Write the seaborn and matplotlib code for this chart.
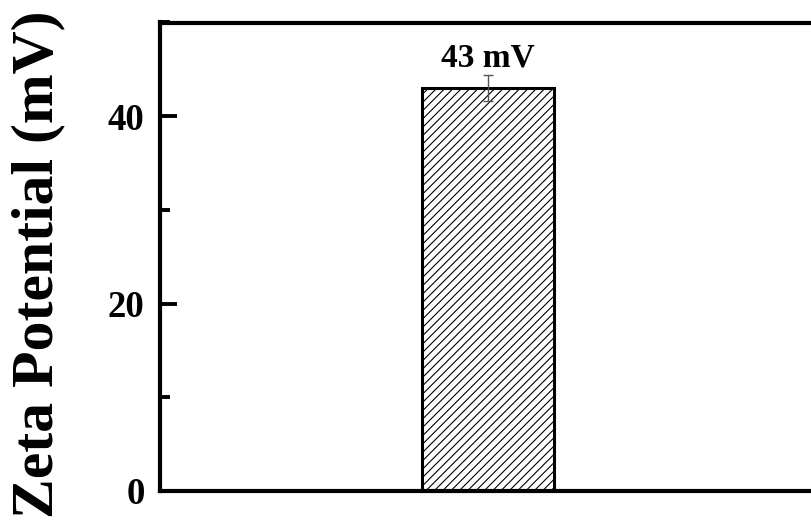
import matplotlib
matplotlib.use("Agg")
import matplotlib.pyplot as plt
import seaborn as sns
import pandas as pd
from matplotlib.ticker import MultipleLocator

# Data
categories = ["Sample"]
zeta_values = [43.0]
zeta_errors = [1.4]
value_labels = ["43 mV"]
y_ticks = [0, 20, 40]

sns.set_style("ticks")
plt.rcParams["font.family"] = ["Liberation Serif", "DejaVu Serif"]
plt.rcParams["font.weight"] = "bold"
plt.rcParams["text.color"] = "black"
plt.rcParams["axes.labelcolor"] = "black"
plt.rcParams["ytick.color"] = "black"
plt.rcParams["ytick.labelcolor"] = "black"
plt.rcParams["hatch.linewidth"] = 0.8
plt.rcParams["hatch.color"] = "#444444"

df = pd.DataFrame({"cat": categories, "zeta": zeta_values})

fig = plt.figure(figsize=(8.11, 5.25), dpi=100)
ax = fig.add_axes([160 / 811, 34 / 525, 656 / 811, 468.5 / 525])

sns.barplot(data=df, x="cat", y="zeta", ax=ax, width=0.2, color="white",
            edgecolor="black", linewidth=2.2, errorbar=None, hatch="////")

for i, (v, e, lab) in enumerate(zip(zeta_values, zeta_errors, value_labels)):
    ax.errorbar(i, v, yerr=e, fmt="none", ecolor="#555555", elinewidth=1.0,
                capsize=3.5, capthick=1.0, zorder=5)
    ax.text(i, v + e + 0.95, lab, ha="center", va="baseline", fontsize=24,
            fontweight="bold", color="black")

ax.set_xlim(-0.5, 0.5)
ax.set_ylim(0, 50)
ax.set_yticks(y_ticks)
ax.yaxis.set_minor_locator(MultipleLocator(10))
ax.set_xticks([])
ax.set_xlabel("")
ax.set_ylabel("Zeta Potential (mV)", fontsize=43, fontweight="bold", va="center",
              color="black")
ax.yaxis.set_label_coords((38 - 160) / 656, 0.483)

ax.tick_params(axis="y", which="major", direction="in", length=12, width=2.8,
               labelsize=26.5, pad=11, color="black", labelcolor="black")
ax.tick_params(axis="y", which="minor", direction="in", length=7, width=2.8,
               color="black")
for lab in ax.get_yticklabels():
    lab.set_fontweight("bold")

for side in ["left", "bottom", "top", "right"]:
    ax.spines[side].set_visible(True)
    ax.spines[side].set_linewidth(3.0)
    ax.spines[side].set_color("black")

fig.savefig("out.png", dpi=100, facecolor="white")
